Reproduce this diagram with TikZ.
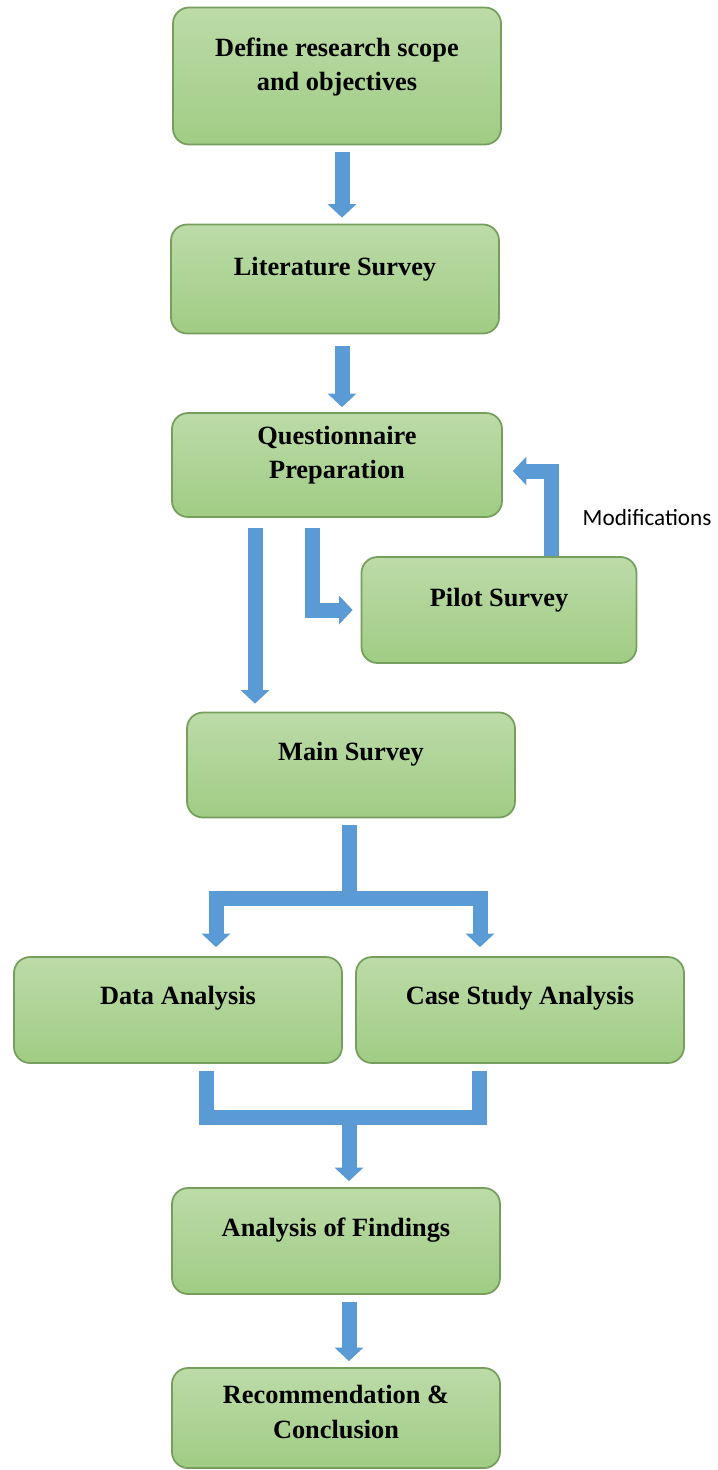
\documentclass[tikz,border=0pt]{standalone}
\usepackage{fontspec}
\setmainfont{Liberation Serif}
\newfontfamily\labelfont{Carlito}
\usetikzlibrary{arrows.meta, positioning}

\definecolor{boxtop}{RGB}{188,219,168}
\definecolor{boxbot}{RGB}{160,204,132}
\definecolor{boxline}{RGB}{118,158,92}
\definecolor{arrowblue}{RGB}{91,155,213}

\begin{document}
\begin{tikzpicture}[x=0.1mm, y=-0.1mm,
          box/.style = {draw=boxline, line width=0.5pt, rounded corners=1.6mm,
                        top color=boxtop, bottom color=boxbot,
                        minimum width=32.8mm, minimum height=10.6mm},
          txt/.style = {align=center, font=\bfseries\fontsize{7.5}{9.7}\selectfont,
                        inner sep=0pt},
          flow/.style = {draw=arrowblue, line width=1.5mm,
                         -{Triangle[width=2.8mm, length=1.35mm]},
                         shorten <=0.7mm, shorten >=0.6mm},
          pipe/.style = {draw=arrowblue, line width=1.5mm, line cap=rect}]
    \useasboundingbox (0,0) rectangle (717,1470);

    % stages
    \node[box, minimum height=13.7mm] (scope) at (337,76) {};
    \node[txt, yshift=0.9mm] (scopeT) at (scope.center) {Define research scope\\and objectives};
    \node[box, minimum height=10.9mm] (lit) at (335,279) {};
    \node[txt, yshift=1mm] (litT) at (lit.center) {Literature Survey};
    \node[box, minimum width=33mm, minimum height=10.4mm] (quest) at (337,465) {};
    \node[txt, yshift=1mm] (questT) at (quest.center) {Questionnaire\\Preparation};
    \node[box, minimum width=27.5mm] (pilot) at (499,610) {};
    \node[txt, yshift=1mm] (pilotT) at (pilot.center) {Pilot Survey};
    \node[box, minimum height=10.5mm] (main) at (351,765) {};
    \node[txt, yshift=1.1mm] (mainT) at (main.center) {Main Survey};
    \node[box] (data) at (178,1010) {};
    \node[txt, yshift=1.2mm] (dataT) at (data.center) {Data Analysis};
    \node[box] (case) at (520,1010) {};
    \node[txt, yshift=1.2mm] (caseT) at (case.center) {Case Study Analysis};
    \node[box] (find) at (336,1241) {};
    \node[txt, yshift=1.1mm] (findT) at (find.center) {Analysis of Findings};
    \node[box, minimum height=10mm] (rec) at (336,1418) {};
    \node[txt, yshift=0.6mm] (recT) at (rec.center) {Recommendation \&\\Conclusion};

    % arrows
    \coordinate (midX) at (342,0);
    \coordinate (lowX) at (349,0);
    \coordinate (longX) at (255,0);
    \coordinate (pilotX) at (312,0);
    \coordinate (modX) at (551,0);
    \coordinate (splitL) at (216,898);
    \coordinate (splitR) at (480,898);
    \coordinate (joinL) at (206,1117);
    \coordinate (joinR) at (479,1117);

    \draw[flow] (scope.south -| midX) -- (lit.north -| midX);
    \draw[flow, shorten <=1.2mm, shorten >=0.5mm] (lit.south -| midX) -- (quest.north -| midX);
    \draw[flow, shorten <=1mm, shorten >=0.8mm] (quest.south -| longX) -- (main.north -| longX);
    \draw[flow, shorten <=1mm, shorten >=0.8mm] (quest.south -| pilotX) |- (pilot.west);
    \draw[flow, shorten <=0pt, shorten >=1mm] (pilot.north -| modX) |- ([yshift=-0.6mm]quest.east);
    \node[anchor=west, inner sep=0pt, font=\labelfont\fontsize{6.6}{8}\selectfont]
          (modL) at ([xshift=3.1mm]quest.south -| modX) {Modifications};

    \draw[pipe, line cap=butt, shorten <=0.7mm] (main.south -| lowX) -- (splitL -| lowX);
    \draw[pipe] (splitL) -- (splitR);
    \draw[flow, shorten <=0pt, shorten >=0.9mm] (splitL) -- (data.north -| splitL);
    \draw[flow, shorten <=0pt, shorten >=0.9mm] (splitR) -- (case.north -| splitR);

    \draw[pipe, line cap=butt] ([yshift=-0.7mm]data.south -| joinL) -- (joinL)
          -- (joinR) -- ([yshift=-0.7mm]case.south -| joinR);
    \draw[flow, shorten <=0pt] (joinL -| lowX) -- (find.north -| lowX);
    \draw[flow] (find.south -| lowX) -- (rec.north -| lowX);
\end{tikzpicture}
\end{document}
